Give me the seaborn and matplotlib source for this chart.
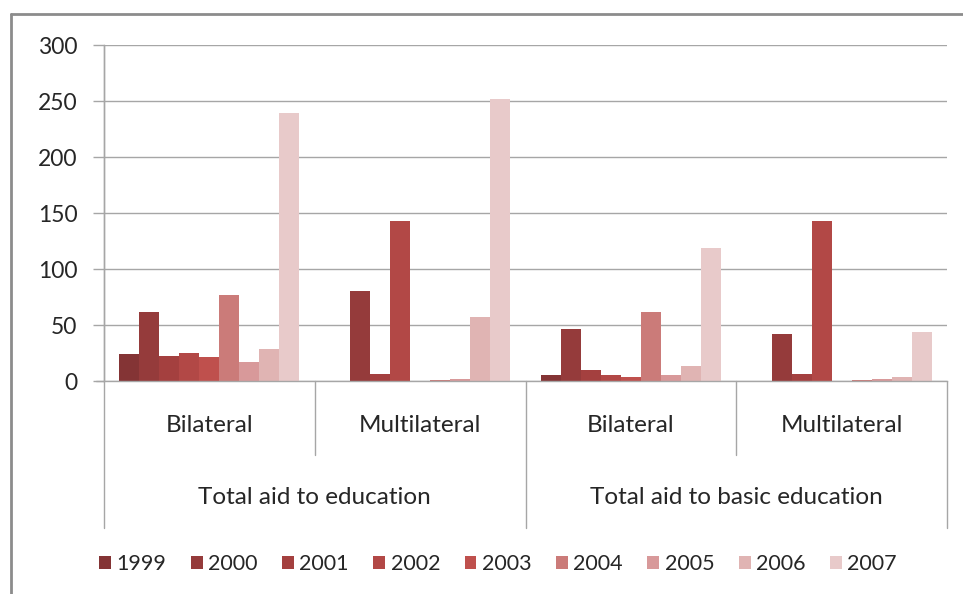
import matplotlib
matplotlib.use("Agg")
import matplotlib.pyplot as plt
import seaborn as sns
import pandas as pd
from matplotlib.lines import Line2D
from matplotlib.patches import Patch

years = ["1999", "2000", "2001", "2002", "2003", "2004", "2005", "2006", "2007"]
outer_groups = ["Total aid to education", "Total aid to basic education"]
inner_groups = ["Bilateral", "Multilateral"]
categories = ["edu|Bilateral", "edu|Multilateral", "basic|Bilateral", "basic|Multilateral"]

edu_bilateral = [24, 62, 22, 25, 21, 77, 17, 29, 239]
edu_multilateral = [0, 80, 6, 143, 0, 1, 2, 57, 252]
basic_bilateral = [5, 46, 10, 5, 4, 62, 5, 13, 119]
basic_multilateral = [0, 42, 6, 143, 0, 1, 2, 4, 44]

colors = ["#843435", "#953B3B", "#A4403F", "#B24846", "#BF504D",
          "#CB7B79", "#D8999A", "#E0B4B3", "#E8CACA"]

series = [edu_bilateral, edu_multilateral, basic_bilateral, basic_multilateral]
rows = []
for cat, vals in zip(categories, series):
    for y, v in zip(years, vals):
        rows.append({"cat": cat, "year": y, "value": v})
df = pd.DataFrame(rows)

sns.set_style("white")
plt.rcParams["font.family"] = ["Lato", "DejaVu Sans"]

fig = plt.figure(figsize=(9.63, 5.94), dpi=100)
ax = fig.add_axes([104/963, 1-381/594, (947-104)/963, (381-45)/594])

sns.barplot(data=df, x="cat", y="value", hue="year", order=categories,
            hue_order=years, palette=colors, width=0.855, saturation=1,
            linewidth=0, ax=ax, legend=False)

ax.set_ylim(0, 300)
ax.set_yticks(range(0, 301, 50))
ax.yaxis.grid(True, color="#A6A6A6", linewidth=1)
ax.set_axisbelow(True)
ax.set_xlabel("")
ax.set_ylabel("")
ax.set_xticks([])
ax.tick_params(axis="y", length=8, width=1, color="#A6A6A6", labelsize=16.5,
               labelcolor="#262626", pad=11, left=True)
for s in ["top", "right"]:
    ax.spines[s].set_visible(False)
for s in ["left", "bottom"]:
    ax.spines[s].set_color("#A6A6A6")
    ax.spines[s].set_linewidth(1)

# multi-level category axis
tr = ax.transAxes
def ya(py):
    return (381 - py) / (381 - 45)
line_kw = dict(color="#A6A6A6", linewidth=1, clip_on=False, transform=tr)
for xf in [0, 0.5, 1.0]:
    ax.add_line(Line2D([xf, xf], [0, ya(528)], **line_kw))
for xf in [0.25, 0.75]:
    ax.add_line(Line2D([xf, xf], [0, ya(455)], **line_kw))
ax.add_line(Line2D([0, 0], [0, 1], **line_kw))
ax.add_line(Line2D([-8/843, 0], [0, 0], **line_kw))

for i, name in enumerate(inner_groups * 2):
    ax.text(0.125 + 0.25 * i, ya(425), name, ha="center", va="center",
            fontsize=17.5, color="#262626", transform=tr)
for i, name in enumerate(outer_groups):
    ax.text(0.25 + 0.5 * i, ya(497), name, ha="center", va="center",
            fontsize=17.5, color="#262626", transform=tr)

handles = [Patch(facecolor=c, edgecolor="none") for c in colors]
fig.legend(handles, years, loc="center", bbox_to_anchor=(498/963, 1-564/594),
           ncol=9, frameon=False, fontsize=15.5, handlelength=0.55,
           handleheight=0.55, handletextpad=0.25, columnspacing=1.14,
           labelcolor="#262626")

# outer chart border
fig.add_artist(Line2D([11/963, 11/963], [0, 1-14/594], color="#8C8C8C",
                      linewidth=2, transform=fig.transFigure))
fig.add_artist(Line2D([11/963, 1], [1-14/594, 1-14/594], color="#8C8C8C",
                      linewidth=2, transform=fig.transFigure))

fig.savefig("out.png", dpi=100)
